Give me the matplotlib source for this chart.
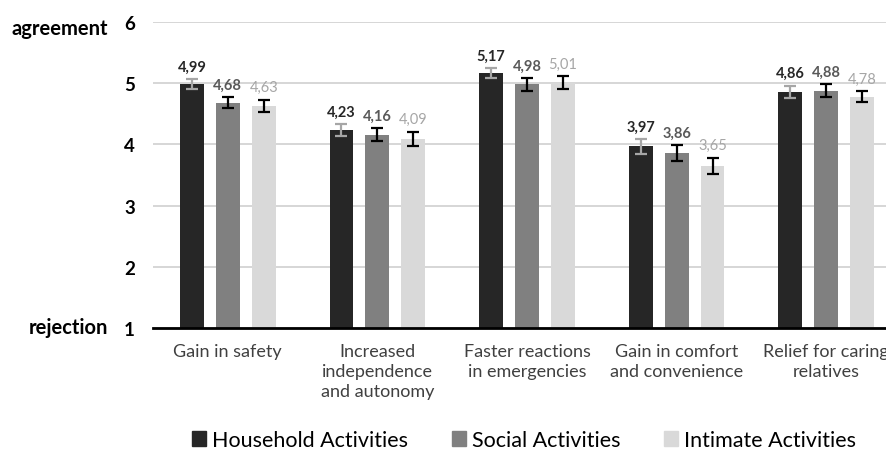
import numpy as np
import matplotlib
matplotlib.use("Agg")
import matplotlib.pyplot as plt
from matplotlib.patches import Patch

plt.rcParams["font.family"] = ["Lato", "DejaVu Sans"]

categories = [
    "Gain in safety",
    "Increased\nindependence\nand autonomy",
    "Faster reactions\nin emergencies",
    "Gain in comfort\nand convenience",
    "Relief for caring\nrelatives",
]
series_names = ["Household Activities", "Social Activities", "Intimate Activities"]
household = [4.99, 4.23, 5.17, 3.97, 4.86]
social = [4.68, 4.16, 4.98, 3.86, 4.88]
intimate = [4.63, 4.09, 5.01, 3.65, 4.78]
household_err = [0.08, 0.10, 0.08, 0.12, 0.10]
social_err = [0.09, 0.11, 0.10, 0.13, 0.10]
intimate_err = [0.10, 0.12, 0.10, 0.13, 0.09]

values = [household, social, intimate]
errors = [household_err, social_err, intimate_err]
bar_colors = ["#262626", "#808080", "#d9d9d9"]
err_colors = ["#a6a6a6", "#000000", "#000000"]
label_colors = ["#262626", "#595959", "#a6a6a6"]
label_weights = ["bold", "bold", "normal"]

fig = plt.figure(figsize=(8.87, 4.64), dpi=100)
# the plot area runs a little past the right edge, as in the original
ax = fig.add_axes([153 / 887, 1 - 329 / 464, 748 / 887, (329 - 23) / 464])

x = np.arange(len(categories))
width = 0.16
step = 0.24

for i, (vals, errs) in enumerate(zip(values, errors)):
    pos = x + (i - 1) * step
    ax.bar(pos, np.array(vals) - 1, width, bottom=1, color=bar_colors[i], zorder=3)
    ax.errorbar(pos, vals, yerr=errs, fmt="none", ecolor=err_colors[i],
                elinewidth=1.6, capsize=4.5, capthick=1.6, zorder=4)
    for p, v, e in zip(pos, vals, errs):
        ax.annotate(f"{v:.2f}".replace(".", ","), (p, v + e), xytext=(0, 4),
                    textcoords="offset points", ha="center", va="bottom",
                    fontsize=10.5, fontweight=label_weights[i], color=label_colors[i])

ax.set_xlim(-0.5, len(categories) - 0.5)
ax.set_ylim(1, 6)
ax.set_yticks([1, 2, 3, 4, 5, 6])
ax.set_yticklabels(["1", "2", "3", "4", "5", "6"], fontsize=13.5, fontweight="bold")
ax.set_xticks(x)
ax.set_xticklabels(categories, fontsize=13, color="#404040", linespacing=1.3)
ax.tick_params(axis="both", length=0)
ax.tick_params(axis="y", pad=13)
ax.tick_params(axis="x", pad=11)
ax.yaxis.grid(True, color="#d0d0d0", linewidth=1.2, zorder=0)
for s in ["top", "right", "left"]:
    ax.spines[s].set_visible(False)
ax.spines["bottom"].set_linewidth(2)
ax.spines["bottom"].set_color("#000000")
ax.spines["bottom"].set_zorder(5)

fig.text(108 / 887, 1 - 29 / 464, "agreement", ha="right", va="center",
         fontsize=14.5, fontweight="bold")
fig.text(108 / 887, 1 - 328 / 464, "rejection", ha="right", va="center",
         fontsize=14.5, fontweight="bold")

handles = [Patch(color=c) for c in bar_colors]
fig.legend(handles, series_names, loc="center", bbox_to_anchor=(524 / 887, 1 - 441 / 464),
           ncol=3, frameon=False, fontsize=15.5, handlelength=0.65, handleheight=0.7,
           handletextpad=0.3, columnspacing=2.0)

fig.savefig("out.png", dpi=100)
